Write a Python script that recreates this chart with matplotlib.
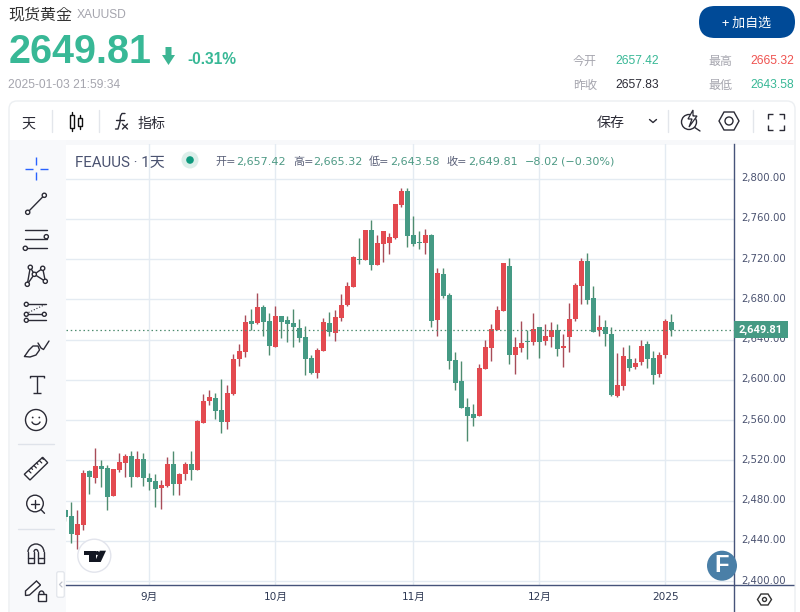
from __future__ import annotations

import matplotlib

matplotlib.use("Agg")
import matplotlib.pyplot as plt  # noqa: E402
import numpy as np  # noqa: E402
from matplotlib.patches import Arc, Circle, FancyBboxPatch, Polygon, Rectangle  # noqa: E402
from matplotlib.transforms import ScaledTranslation  # noqa: E402

CJK = "Noto Sans CJK JP"
plt.rcParams["font.family"] = ["Roboto", CJK]
plt.rcParams["axes.unicode_minus"] = False

OPEN = [2470.5, 2464.5, 2445.6, 2455.6, 2509.3, 2502.3, 2514.2, 2512.2, 2484.4, 2510.2,
        2517.2, 2524.2, 2503.3, 2521.2, 2502.3, 2499.3, 2492.4, 2494.4, 2516.2, 2496.3,
        2506.3, 2516.2, 2510.2, 2557.0, 2578.8, 2581.8, 2569.9, 2558.0, 2585.5, 2620.6,
        2627.5, 2658.4, 2656.4, 2672.3, 2658.4, 2632.5, 2663.3, 2659.4, 2656.4, 2651.4,
        2642.5, 2621.6, 2606.7, 2628.5, 2656.4, 2646.4, 2661.3, 2673.9, 2692.2, 2720.0,
        2719.0, 2748.8, 2714.0, 2734.9, 2735.9, 2740.9, 2773.7, 2787.6, 2743.8, 2736.9,
        2735.9, 2743.8, 2659.4, 2705.1, 2684.2, 2619.6, 2598.8, 2572.9, 2566.0, 2564.0,
        2610.7, 2631.6, 2649.4, 2668.3, 2713.1, 2624.6, 2631.6, 2638.5, 2637.5, 2652.4,
        2638.5, 2642.5, 2649.4, 2631.6, 2642.5, 2660.4, 2693.2, 2718.0, 2681.2, 2649.4,
        2652.4, 2645.5, 2583.8, 2593.8, 2620.6, 2612.7, 2617.6, 2635.5, 2621.6, 2605.7,
        2624.6, 2657.42]
CLOSE = [2463.5, 2446.6, 2456.6, 2507.3, 2503.3, 2514.2, 2511.2, 2483.4, 2511.2, 2518.2,
         2524.2, 2503.3, 2521.2, 2502.3, 2498.3, 2491.4, 2495.3, 2516.2, 2496.3, 2506.3,
         2516.2, 2510.2, 2559.0, 2578.8, 2582.8, 2568.9, 2558.0, 2586.8, 2620.6, 2628.5,
         2657.4, 2655.4, 2672.3, 2657.4, 2633.5, 2663.3, 2657.4, 2655.4, 2652.4, 2641.5,
         2620.6, 2606.7, 2629.5, 2657.4, 2647.4, 2662.3, 2674.3, 2693.1, 2722.0, 2719.0,
         2748.8, 2714.0, 2735.9, 2747.8, 2741.8, 2774.6, 2787.6, 2742.8, 2734.9, 2735.9,
         2743.8, 2658.4, 2706.1, 2683.2, 2618.6, 2596.8, 2571.9, 2564.0, 2562.0, 2611.7,
         2632.6, 2650.4, 2669.3, 2716.0, 2624.6, 2632.6, 2636.5, 2637.5, 2650.4, 2637.5,
         2643.5, 2649.4, 2630.6, 2633.5, 2660.4, 2694.2, 2718.0, 2679.3, 2647.5, 2652.4,
         2645.5, 2584.8, 2594.8, 2623.6, 2611.7, 2616.6, 2633.5, 2620.6, 2604.7, 2624.6,
         2658.4, 2649.81]
HIGH = [2472.0, 2478.4, 2470.5, 2510.2, 2510.2, 2532.1, 2520.2, 2515.2, 2511.2, 2527.1,
        2526.1, 2529.1, 2529.1, 2527.1, 2507.3, 2506.3, 2500.3, 2523.2, 2529.1, 2507.3,
        2518.2, 2529.1, 2560.0, 2585.8, 2589.8, 2586.8, 2600.7, 2594.7, 2625.6, 2635.5,
        2664.3, 2670.3, 2686.2, 2674.3, 2666.3, 2673.3, 2663.3, 2663.3, 2670.3, 2660.4,
        2653.4, 2624.6, 2631.5, 2661.3, 2667.3, 2669.3, 2685.2, 2697.1, 2723.0, 2740.9,
        2748.8, 2758.7, 2743.8, 2747.8, 2745.8, 2774.6, 2790.5, 2790.5, 2762.7, 2747.8,
        2749.8, 2745.0, 2711.0, 2711.0, 2686.2, 2627.6, 2618.6, 2581.9, 2575.9, 2615.7,
        2639.5, 2655.4, 2673.3, 2716.0, 2721.0, 2642.5, 2658.4, 2649.4, 2666.3, 2652.4,
        2655.4, 2657.4, 2655.4, 2645.5, 2676.3, 2696.2, 2721.0, 2726.0, 2693.2, 2664.4,
        2659.4, 2652.4, 2626.6, 2632.6, 2634.5, 2621.6, 2639.5, 2638.5, 2628.6, 2627.6,
        2660.4, 2665.32]
LOW = [2460.0, 2437.7, 2431.7, 2450.6, 2486.4, 2497.3, 2493.4, 2470.5, 2484.4, 2508.3,
       2503.3, 2493.4, 2503.3, 2494.4, 2490.4, 2473.5, 2471.5, 2493.4, 2485.4, 2485.4,
       2500.3, 2500.3, 2510.2, 2557.0, 2574.9, 2561.0, 2547.0, 2551.0, 2584.8, 2613.6,
       2622.6, 2649.4, 2655.4, 2643.4, 2624.6, 2632.5, 2641.5, 2637.5, 2632.5, 2637.5,
       2604.7, 2605.7, 2601.7, 2628.5, 2643.4, 2638.5, 2658.4, 2673.3, 2692.2, 2715.0,
       2719.0, 2709.0, 2714.0, 2717.0, 2725.0, 2739.9, 2771.7, 2731.9, 2732.9, 2729.9,
       2725.0, 2652.4, 2643.5, 2681.2, 2610.7, 2589.8, 2571.9, 2539.1, 2554.0, 2564.0,
       2610.7, 2618.6, 2649.4, 2668.3, 2615.7, 2605.7, 2627.6, 2620.6, 2634.5, 2621.6,
       2634.5, 2632.6, 2623.6, 2612.7, 2627.6, 2658.4, 2675.3, 2675.3, 2647.5, 2643.5,
       2633.5, 2583.8, 2582.8, 2589.8, 2608.7, 2610.7, 2614.7, 2611.7, 2595.8, 2602.7,
       2621.6, 2643.58]

PRICE_TICKS = [2400, 2440, 2480, 2520, 2560, 2600, 2640, 2680, 2720, 2760, 2800]
MONTH_POS = [14, 35, 58, 79, 100]
MONTH_LABELS = ["9月", "10月", "11月", "12月", "2025"]
LAST_PRICE = 2649.81
LAST_LABEL = "2,649.81"

UP = "#E34A50"
DOWN = "#459A84"
UP_WICK = "#A84C58"
DOWN_WICK = "#4F8C70"
GRID = "#E4EBF2"
AXIS = "#46537A"
TEAL = "#38B896"
GRAY = "#A5A5AE"
INK = "#2B2B36"

fig = plt.figure(figsize=(8, 6.12), dpi=100, facecolor="white")


def pixel_axes(zorder):
    a = fig.add_axes([0, 0, 1, 1], zorder=zorder)
    a.set_xlim(0, 800)
    a.set_ylim(612, 0)
    a.axis("off")
    a.patch.set_alpha(0)
    return a


bg = pixel_axes(0)
top = pixel_axes(5)


def txt(a, x, y, s, px, color=INK, ha="left", weight="normal", family=None):
    kw = {"family": family} if family else {}
    a.text(x, y, s, fontsize=px * 0.72, color=color, ha=ha, va="center_baseline", fontweight=weight, **kw)


def line(a, xs, ys, color=INK, lw=1.0, **kw):
    a.plot(xs, ys, color=color, lw=lw, solid_capstyle=kw.pop("cap", "round"), **kw)


def ring(a, x, y, r, color=INK, lw=1.0, fc="white"):
    a.add_patch(Circle((x, y), r, fc=fc, ec=color, lw=lw, zorder=4))


# header
txt(bg, 8, 13, "现货黄金", 16, "#333333", family=CJK)
txt(bg, 77, 14, "XAUUSD", 12, GRAY, family="Liberation Sans")
txt(bg, 9, 48, "2649.81", 39.5, TEAL, weight="bold", family="Liberation Sans")
bg.add_patch(Polygon([(165.5, 47), (171.5, 47), (171.5, 55), (175, 55), (168.5, 65), (162, 55), (165.5, 55)], fc="#3CB593", ec="none"))
txt(bg, 187, 58, "-0.31%", 15.5, TEAL, weight="bold", family="Liberation Sans")
txt(bg, 8, 84, "2025-01-03 21:59:34", 12, GRAY, family="Liberation Sans")

bg.add_patch(FancyBboxPatch((699 + 16, 6 + 16), 96 - 32, 0, boxstyle="round,pad=16", fc="#004A97", ec="none"))
txt(bg, 747, 22, "+ 加自选", 13, "white", ha="center", family=CJK)

for x, y, s in [(573, 60, "今开"), (573, 84, "昨收"), (708, 60, "最高"), (708, 84, "最低")]:
    txt(bg, x, y, s, 12, GRAY, family=CJK)
for x, y, s, c in [(615, 60, "2657.42", TEAL), (615, 84, "2657.83", INK),
                   (750, 60, "2665.32", "#EF5350"), (750, 84, "2643.58", TEAL)]:
    txt(bg, x, y, s, 12, c, family="Liberation Sans")

# panel and toolbars
bg.add_patch(FancyBboxPatch((17, 109), 770, 520, boxstyle="round,pad=8", fc="white", ec="#ECEFF2", lw=1))
bg.add_patch(Rectangle((10, 140), 784, 4.5, fc="#F7F8FA", ec="none"))
bg.add_patch(Rectangle((10, 140), 56, 472, fc="#F8F9FB", ec="none"))
for x in [51.5, 98.5, 667.5, 752.5]:
    line(bg, [x, x], [110, 132], "#E3E6EB", 1)
txt(bg, 21, 122, "天", 14, INK, family=CJK)
txt(bg, 138, 122, "指标", 14, INK, family=CJK)
txt(bg, 597, 122, "保存", 14, INK, family=CJK)
line(bg, [649.5, 653, 656.5], [119.5, 122.5, 119.5], INK, 1)
# candle icon
line(bg, [71.5, 71.5], [111.5, 130.5], "#111111", 1, zorder=1)
bg.add_patch(Rectangle((69.5, 114.5), 4, 13, fc="white", ec="#111111", lw=1, zorder=3))
line(bg, [79.5, 79.5], [115, 129], "#111111", 1, zorder=1)
bg.add_patch(Rectangle((77.5, 117.5), 4, 8, fc="white", ec="#111111", lw=1, zorder=3))
# fx icon
line(bg, [115.5, 118, 120, 120.5, 122, 125], [129, 129, 122, 116, 113.5, 113.5], INK, 1)
line(bg, [116, 124], [120, 120], INK, 1)
line(bg, [122.5, 127.5], [124, 129], INK, 1)
line(bg, [127.5, 122.5], [124, 129], INK, 1)
# right toolbar icons
ring(bg, 689, 122, 7.5, INK, 1)
bg.add_patch(Polygon([(693, 110), (688, 119), (692, 119), (689, 127), (697, 116), (693, 116)], fc="white", ec=INK, lw=0.9, zorder=5))
line(bg, [694, 700], [127, 131], INK, 1)
bg.add_patch(Polygon([(719, 121), (724, 112), (734, 112), (739, 121), (734, 130), (724, 130)], fc="white", ec=INK, lw=1))
ring(bg, 729, 121, 4, INK, 1)
for sx, sy in [(1, 1), (-1, 1), (1, -1), (-1, -1)]:
    cx, cy = 775.5, 121.5
    line(bg, [cx + sx * 8, cx + sx * 8, cx + sx * 3], [cy + sy * 3, cy + sy * 8, cy + sy * 8], INK, 1, cap="butt")

# left drawing tools
blue = "#2962FF"
line(bg, [25, 32.5], [168.7, 168.7], blue, 1, cap="butt")
line(bg, [40, 48], [168.7, 168.7], blue, 1, cap="butt")
line(bg, [36.3, 36.3], [157.3, 165], blue, 1, cap="butt")
line(bg, [36.3, 36.3], [172.3, 180], blue, 1, cap="butt")

line(bg, [27.7, 44.3], [212.3, 195.3])
ring(bg, 27.7, 212.3, 2.1)
ring(bg, 44.3, 195.3, 2.1)

for y in [230, 238.7, 248.3]:
    line(bg, [25, 47], [y, y])
ring(bg, 46.3, 236.7, 2.1)
ring(bg, 25.3, 248.3, 2.1)

pts = {"a": (30.3, 267.3), "b": (42.7, 268.3), "c": (34.3, 274.3), "d": (27.3, 284.3), "e": (45.3, 281.3)}
for p, q in ["ac", "ad", "cd", "cb", "be", "ce"]:
    line(bg, [pts[p][0], pts[q][0]], [pts[p][1], pts[q][1]])
for p in pts.values():
    ring(bg, p[0], p[1], 2.1)

for y in [304.3, 314.3, 320.3]:
    line(bg, [28, 46], [y, y])
line(bg, [28.5, 45], [312.5, 304.5], INK, 0.8, ls=":")
for x, y in [(26.3, 304.3), (26.3, 314.3), (26.3, 320.3), (44.3, 314.3)]:
    ring(bg, x, y, 2.0)

line(bg, [24.5, 29, 33, 38, 39.5, 36, 30, 24.5], [356.5, 350, 346, 346, 350, 355, 357, 356.5])
line(bg, [38, 41, 43.5, 49], [343, 348, 349.5, 341])

line(bg, [29.5, 29.5, 44, 44], [378, 375.7, 375.7, 378], cap="butt")
line(bg, [36.7, 36.7], [375.7, 392.5], cap="butt")
line(bg, [32.5, 40.5], [392.5, 392.5], cap="butt")

ring(bg, 36, 420, 10.5, INK, 1)
bg.add_patch(Circle((32.7, 417.5), 0.9, fc=INK, zorder=5))
bg.add_patch(Circle((39.3, 417.5), 0.9, fc=INK, zorder=5))
bg.add_patch(Arc((36, 420), 9, 9, theta1=20, theta2=160, ec=INK, lw=1, zorder=5))

line(bg, [18, 54], [444.3, 444.3], "#DFE3EA", 1)
bg.add_patch(Polygon([(24.3, 474.3), (42.7, 457.3), (47.7, 462.7), (30, 480)], fc="white", ec=INK, lw=1))
for i, (x, y) in enumerate(np.linspace((28.5, 470.5), (42, 458), 6)):
    size = 3.5 if i % 2 == 0 else 2
    line(bg, [x, x + size * 0.7], [y, y + size * 0.7], INK, 0.9)

ring(bg, 35, 503.5, 8.3, INK, 1)
line(bg, [31, 39], [503.5, 503.5], INK, 1, zorder=6)
line(bg, [35, 35], [499.5, 507.5], INK, 1, zorder=6)
line(bg, [40.7, 44.5], [509.3, 513.3], INK, 1)

line(bg, [18, 54], [529, 529], "#DFE3EA", 1)
bg.add_patch(Arc((36, 552), 16, 16, theta1=180, theta2=360, ec=INK, lw=1))
bg.add_patch(Arc((36, 552), 4, 5, theta1=180, theta2=360, ec=INK, lw=1))
line(bg, [28, 28, 34, 34], [552, 562.7, 562.7, 552], INK, 1)
line(bg, [44, 44, 38, 38], [552, 562.7, 562.7, 552], INK, 1)
line(bg, [28, 34], [557.7, 557.7], INK, 1)
line(bg, [38, 44], [557.7, 557.7], INK, 1)

bg.add_patch(Polygon([(25.5, 591), (36.5, 581), (40.5, 585), (29.5, 595), (25.5, 595.5)], fc="white", ec=INK, lw=1))
bg.add_patch(Rectangle((37.5, 594), 8, 6.5, fc="white", ec=INK, lw=1, zorder=4))
bg.add_patch(Arc((41.5, 594), 5, 6, theta1=180, theta2=360, ec=INK, lw=1))
bg.add_patch(FancyBboxPatch((58.7, 573.7), 3.6, 21.6, boxstyle="round,pad=2", fc="white", ec="#E4E7EC", lw=1))
line(bg, [62, 59.5, 62], [582, 584.5, 587], "#BFC3CC", 0.9)

# chart header
txt(bg, 75, 161, "FEAUUS · 1天", 15, "#4A5270")
bg.add_patch(Circle((190, 160), 8.5, fc="#DCEFEA", ec="none"))
bg.add_patch(Circle((190, 160), 3.8, fc="#0F9A7E", ec="none"))
val = "#4E9A85"
lab = "#5A6078"
for x, s, c in [(215, "开=", lab), (236, "2,657.42", val), (293, "高=", lab), (313, "2,665.32", val),
                (369, "低=", lab), (390, "2,643.58", val), (447, "收=", lab), (468, "2,649.81", val),
                (525, "−8.02", val), (561, "(−0.30%)", val)]:
    top.text(x, 161, s, fontsize=8, color=c, va="center_baseline", family=["DejaVu Sans", CJK])

# price chart
ax = fig.add_axes([66 / 800, 1 - 585 / 612, (734 - 66) / 800, (585 - 144) / 612], zorder=2)
ax.patch.set_alpha(0)
ax.set_xlim((66 - 65.3) / 6, (734 - 65.3) / 6)
ax.set_ylim(2400 + (581 - 585) * 0.9938, 2400 + (581 - 144) * 0.9938)
ax.set_axisbelow(True)

days = np.arange(len(OPEN))
o, c, h, l = map(np.asarray, (OPEN, CLOSE, HIGH, LOW))
rising = c >= o
ax.vlines(days, l, h, colors=np.where(rising, UP_WICK, DOWN_WICK).tolist(), lw=1, zorder=3)
ax.bar(days, np.maximum(np.abs(c - o), 1), bottom=np.minimum(o, c), width=0.85,
       color=np.where(rising, UP, DOWN).tolist(), lw=0, zorder=4)
ax.axhline(LAST_PRICE, color=DOWN_WICK, lw=0.9, ls=(0, (1.2, 2.2)), zorder=5)

ax.set_yticks(PRICE_TICKS)
ax.set_yticklabels([f"{p:,.2f}" for p in PRICE_TICKS], fontsize=7.3, color="#4A5270", family="DejaVu Sans")
ax.yaxis.tick_right()
ax.set_xticks(MONTH_POS)
ax.set_xticklabels(MONTH_LABELS, fontsize=7.6, color="#2F3A55", family=["DejaVu Sans", CJK])
ax.tick_params(length=0)
ax.tick_params(axis="y", pad=5)
ax.tick_params(axis="x", pad=5)
ax.grid(True, color=GRID, lw=1)
for side in ["top", "left"]:
    ax.spines[side].set_visible(False)
for side in ["right", "bottom"]:
    ax.spines[side].set_color(AXIS)
    ax.spines[side].set_linewidth(1)
lift = ScaledTranslation(0, 1.3 / 100, fig.dpi_scale_trans)
for tick in ax.get_yticklabels():
    tick.set_transform(tick.get_transform() + lift)

ytrans = ax.get_yaxis_transform()
ax.add_patch(Rectangle((1.0, LAST_PRICE - 8.2), 54 / 668, 16.4, transform=ytrans, fc=DOWN, ec="none",
                       zorder=9, clip_on=False))
ax.text(1.0 + 27 / 668, LAST_PRICE, LAST_LABEL, transform=ytrans, fontsize=8, color="white",
        fontweight="bold", ha="center", va="center", zorder=10, clip_on=False)

# overlays
line(top, [734, 794], [585.3, 585.3], AXIS, 1, cap="butt")
line(top, [734, 734], [585, 612], AXIS, 1, cap="butt")
top.add_patch(Polygon([(757.5, 599.5), (761, 594), (768, 594), (771.5, 599.5), (768, 605), (761, 605)], fc="white", ec="#333333", lw=1))
ring(top, 764.5, 599.5, 2, "#333333", 1)

top.add_patch(Circle((94.3, 555.7), 16.5, fc="white", ec="#E2E4EC", lw=1))
top.add_patch(Polygon([(84, 550.7), (96, 550.7), (96, 562), (89.3, 562), (89.3, 555.3), (84, 555.3)], fc="#131722", ec="none"))
top.add_patch(Circle((97.3, 553), 2, fc="#131722", ec="none"))
top.add_patch(Polygon([(99.8, 550.7), (106, 550.7), (100.7, 562), (94.7, 562)], fc="#131722", ec="none"))

top.add_patch(Circle((722, 565.7), 15, fc="#4A7FA7", ec="none"))
top.text(722, 566, "F", fontsize=17, color="white", ha="center", va="center", fontweight="bold", family="Liberation Sans")

fig.savefig("out.png", dpi=100)
plt.close(fig)
